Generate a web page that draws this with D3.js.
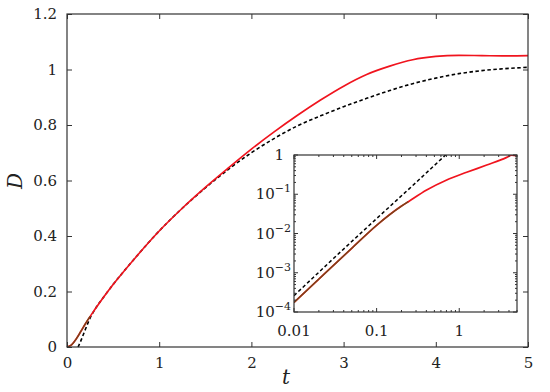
<!DOCTYPE html>
<html><head><meta charset="utf-8">
<script src="https://cdn.jsdelivr.net/npm/d3@7"></script>
<style>body{margin:0;background:#fff}svg{display:block}text,tspan{font-family:"DejaVu Serif",serif !important;fill:#222}</style>
</head><body><svg id="c" width="550" height="392"></svg>
<script>
// ---- main panel data ----
const xTicks = [0, 1, 2, 3, 4, 5];
const yTicks = [0, 0.2, 0.4, 0.6, 0.8, 1, 1.2];
const yTickLabels = ["0", "0.2", "0.4", "0.6", "0.8", "1", "1.2"];
const redT = [0, 0.05, 0.1, 0.15, 0.2, 0.3, 0.4, 0.5, 0.75, 1, 1.25, 1.5, 1.75, 2, 2.25, 2.5, 2.75, 3, 3.25, 3.5, 3.75, 4, 4.25, 4.5, 4.75, 5];
const redD = [0, 0.008, 0.029, 0.056, 0.084, 0.134, 0.181, 0.225, 0.325, 0.418, 0.5, 0.575, 0.645, 0.713, 0.776, 0.835, 0.89, 0.94, 0.982, 1.012, 1.035, 1.047, 1.051, 1.05, 1.049, 1.05];
const dashT = [0.12, 0.15, 0.2, 0.25, 0.3, 0.4, 0.5, 0.75, 1, 1.25, 1.5, 1.75, 2, 2.25, 2.5, 2.75, 3, 3.25, 3.5, 3.75, 4, 4.25, 4.5, 4.75, 5];
const dashD = [0, 0.022, 0.064, 0.104, 0.134, 0.181, 0.225, 0.325, 0.418, 0.5, 0.573, 0.64, 0.7, 0.752, 0.797, 0.833, 0.866, 0.896, 0.924, 0.949, 0.969, 0.985, 0.996, 1.003, 1.008];
const shortT = [0, 0.05, 0.1, 0.15, 0.2, 0.25];
const shortD = [0, 0.008, 0.029, 0.056, 0.084, 0.11];
// ---- inset data ----
const insetXTicks = [0.01, 0.1, 1];
const insetXLabels = ["0.01", "0.1", "1"];
const insetYTicks = [1e-4, 1e-3, 1e-2, 1e-1, 1];
const insetYExp = ["−4", "−3", "−2", "−1", null];
const inRedT = [0.01, 0.02, 0.05, 0.1, 0.2, 0.242, 0.403, 0.705, 1.23, 2.15, 3.76, 4.33, 4.9];
const inRedD = [1.75e-4, 6.9e-4, 4.2e-3, 0.0162, 0.05, 0.0646, 0.128, 0.231, 0.362, 0.556, 0.87, 0.995, 0.96];
const inShortT = [0.01, 0.02, 0.05, 0.1, 0.2, 0.242];
const inShortD = [1.75e-4, 6.9e-4, 4.2e-3, 0.0162, 0.05, 0.0646];
const inDashT = [0.01, 0.03, 0.1, 0.3, 0.7];
const inDashD = [2.6e-4, 2.3e-3, 0.024, 0.2, 1.05];

const svg = d3.select("#c");
const frame = "#333";
const RED = "#f0141e", BROWN = "#7a4418";
const FONT = '"DejaVu Serif",serif';

// main scales
const x = d3.scaleLinear().domain([0, 5]).range([67, 528]);
const y = d3.scaleLinear().domain([0, 1.2]).range([347, 14]);

const g = svg.append("g");
const line = d3.line().x(d => x(d[0])).y(d => y(d[1])).curve(d3.curveMonotoneX);
g.append("path").datum(d3.zip(dashT, dashD)).attr("d", line).attr("fill", "none")
  .attr("stroke", "#000").attr("stroke-width", 1.6).attr("stroke-dasharray", "3.5,2.5");
g.append("path").datum(d3.zip(redT, redD)).attr("d", line).attr("fill", "none")
  .attr("stroke", RED).attr("stroke-width", 1.7);
g.append("path").datum(d3.zip(shortT, shortD)).attr("d", line).attr("fill", "none")
  .attr("stroke", BROWN).attr("stroke-width", 1.4);

// axes with inward ticks, mirrored
const tl = 5;
const axB = d3.axisBottom(x).tickValues(xTicks).tickSize(-tl).tickPadding(10).tickFormat(d3.format("d"));
const axT = d3.axisTop(x).tickValues(xTicks).tickSize(-tl).tickFormat("");
const axL = d3.axisLeft(y).tickValues(yTicks).tickSize(-tl).tickPadding(10).tickFormat((d, i) => yTickLabels[i]);
const axR = d3.axisRight(y).tickValues(yTicks).tickSize(-tl).tickFormat("");
function style(sel) {
  sel.attr("font-family", FONT);
  sel.select(".domain").remove();
  sel.selectAll(".tick line").attr("stroke", frame).attr("stroke-width", 1);
  sel.selectAll("text").style("font-family", FONT).attr("font-size", 15).attr("fill", "#222");
}
svg.append("g").attr("transform", "translate(0,347)").call(axB).call(style);
svg.append("g").attr("transform", "translate(0,14)").call(axT).call(style);
svg.append("g").attr("transform", "translate(67,0)").call(axL).call(style);
svg.append("g").attr("transform", "translate(528,0)").call(axR).call(style);
svg.append("rect").attr("x", 67).attr("y", 14).attr("width", 461).attr("height", 333)
  .attr("fill", "none").attr("stroke", frame).attr("stroke-width", 1.2);

svg.append("text").attr("x", 286).attr("y", 384).attr("text-anchor", "middle").style("font-family", FONT)
  .attr("font-size", 20).attr("font-style", "italic").text("t");
svg.append("text").attr("transform", "translate(22,181) rotate(-90)").attr("text-anchor", "middle").style("font-family", FONT)
  .attr("font-size", 20).attr("font-style", "italic").text("D");

// ---- inset ----
const ix = d3.scaleLog().domain([0.01, 5]).range([294, 517]);
const iy = d3.scaleLog().domain([1e-4, 1]).range([312, 155]);
svg.append("rect").attr("x", 294).attr("y", 155).attr("width", 223).attr("height", 157).attr("fill", "#fff");
svg.append("clipPath").attr("id", "ic").append("rect").attr("x", 294).attr("y", 155).attr("width", 223).attr("height", 157);
const ig = svg.append("g").attr("clip-path", "url(#ic)");
const iline = d3.line().x(d => ix(d[0])).y(d => iy(d[1])).curve(d3.curveMonotoneX);
ig.append("path").datum(d3.zip(inDashT, inDashD)).attr("d", iline).attr("fill", "none")
  .attr("stroke", "#000").attr("stroke-width", 1.5).attr("stroke-dasharray", "3.5,2.5");
ig.append("path").datum(d3.zip(inRedT, inRedD)).attr("d", iline).attr("fill", "none")
  .attr("stroke", RED).attr("stroke-width", 1.7);
ig.append("path").datum(d3.zip(inShortT, inShortD)).attr("d", iline).attr("fill", "none")
  .attr("stroke", BROWN).attr("stroke-width", 1.5);

// inset ticks
const xMinor = [];
[0.01, 0.1, 1].forEach(b => { for (let k = 2; k <= 9; k++) { const v = b * k; if (v <= 5) xMinor.push(v); } });
const yMinor = [];
[1e-4, 1e-3, 1e-2, 1e-1].forEach(b => { for (let k = 2; k <= 9; k++) yMinor.push(b * k); });
const tg = svg.append("g").attr("stroke", frame).attr("stroke-width", 1);
insetXTicks.forEach(v => {
  tg.append("line").attr("x1", ix(v)).attr("x2", ix(v)).attr("y1", 312).attr("y2", 308);
  tg.append("line").attr("x1", ix(v)).attr("x2", ix(v)).attr("y1", 155).attr("y2", 159);
});
xMinor.forEach(v => {
  tg.append("line").attr("x1", ix(v)).attr("x2", ix(v)).attr("y1", 312).attr("y2", 310);
  tg.append("line").attr("x1", ix(v)).attr("x2", ix(v)).attr("y1", 155).attr("y2", 157);
});
insetYTicks.forEach(v => {
  tg.append("line").attr("y1", iy(v)).attr("y2", iy(v)).attr("x1", 294).attr("x2", 298);
  tg.append("line").attr("y1", iy(v)).attr("y2", iy(v)).attr("x1", 517).attr("x2", 513);
});
yMinor.forEach(v => {
  tg.append("line").attr("y1", iy(v)).attr("y2", iy(v)).attr("x1", 294).attr("x2", 296);
  tg.append("line").attr("y1", iy(v)).attr("y2", iy(v)).attr("x1", 517).attr("x2", 515);
});
svg.append("rect").attr("x", 294).attr("y", 155).attr("width", 223).attr("height", 157)
  .attr("fill", "none").attr("stroke", frame).attr("stroke-width", 1.2);

insetXTicks.forEach((v, i) => {
  svg.append("text").attr("x", ix(v)).attr("y", 336).attr("text-anchor", "middle").style("font-family", FONT)
    .attr("font-size", 15).text(insetXLabels[i]);
});
insetYTicks.forEach((v, i) => {
  const t = svg.append("text").attr("x", 291).attr("y", iy(v) + 5).attr("text-anchor", "end").style("font-family", FONT).attr("font-size", 15);
  if (insetYExp[i] === null) { t.attr("x", 284).text("1"); }
  else {
    t.append("tspan").text("10");
    t.append("tspan").attr("dy", -7).attr("font-size", 11).text(insetYExp[i]);
  }
});
</script></body></html>
